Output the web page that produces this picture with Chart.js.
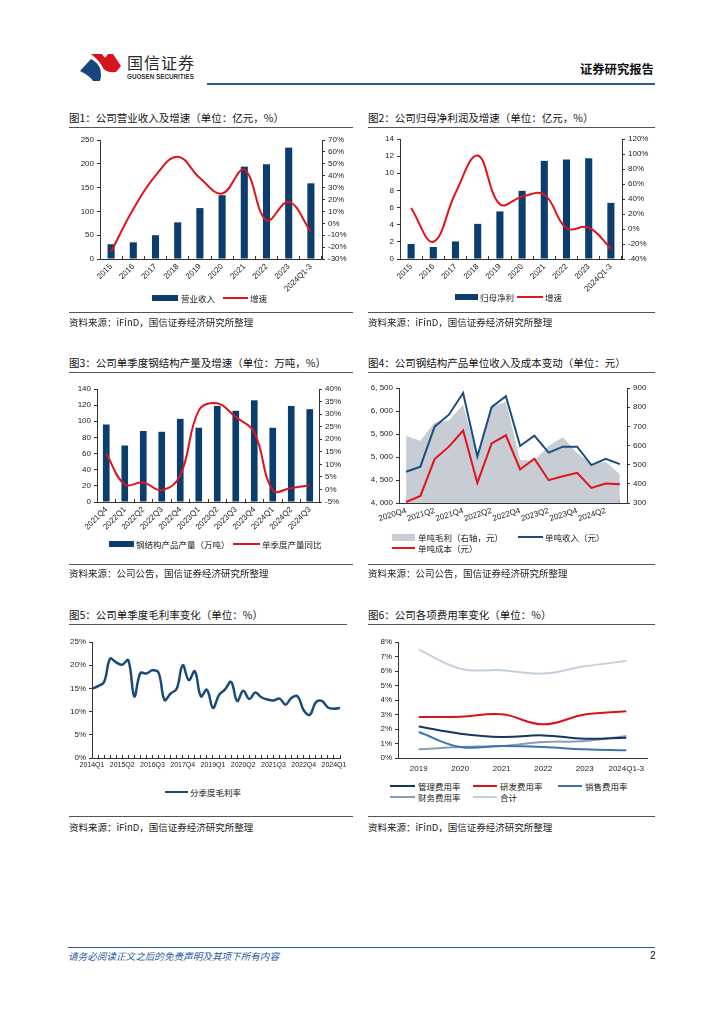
<!DOCTYPE html>
<html lang="zh-CN">
<head>
<meta charset="UTF-8">
<meta name="viewport" content="width=724">
<title>国信证券 - 公司经营数据图表</title>
<style>
  body { margin: 0; background: #fff; }
  .page { position: relative; width: 724px; height: 1024px; overflow: hidden; font-family: "Noto Sans CJK SC", sans-serif; color: #1a1a1a; }
  .abs { position: absolute; white-space: nowrap; }
  .title { font-size: 10.5px; line-height: 12px; color: #111; }
  .rule { position: absolute; height: 1px; background: #555; }
  .src { font-size: 9.5px; line-height: 11px; color: #222; }
  .lg { font-size: 8.5px; line-height: 10px; color: #222; }
  .sw { position: absolute; }
  canvas { position: absolute; }
</style>
<script src="https://cdn.jsdelivr.net/npm/chart.js"></script>
</head>
<body>
<div class="page">
  <!-- header -->
  <svg class="abs" style="left:76px;top:50px" width="50" height="34" viewBox="76 50 50 34">
    <path d="M80 71 L91 59 Q97 62 100 68 Q102 75 100 81 L93 81 Q90 76 80 71 Z" fill="#17467c"/>
    <path d="M91 54 L102 54 L105 58 L108 54 L113 54 L121 66 L116 72 Q106 73 103 68 Q100 61 91 54 Z" fill="#d7141d"/>
  </svg>
  <div class="abs" style="left:127px;top:53px;font-size:16px;line-height:18px;color:#2a2a2a;letter-spacing:1px">国信证券</div>
  <div class="abs" style="left:127px;top:73px;font-family:'Liberation Sans',sans-serif;font-size:6.3px;line-height:8px;font-weight:bold;color:#333">GUOSEN SECURITIES</div>
  <div class="abs" style="left:580px;top:62px;font-size:12.3px;line-height:14px;font-weight:bold;color:#111">证券研究报告</div>
  <div class="abs" style="left:207px;top:83px;width:448px;height:2px;background:#2b5c8e"></div>

  <!-- titles -->
  <div class="abs title" style="left:69px;top:112px">图1：公司营业收入及增速（单位：亿元，%）</div>
  <div class="abs title" style="left:368px;top:112px">图2：公司归母净利润及增速（单位：亿元，%）</div>
  <div class="abs title" style="left:69px;top:357px">图3：公司单季度钢结构产量及增速（单位：万吨，%）</div>
  <div class="abs title" style="left:368px;top:357px">图4：公司钢结构产品单位收入及成本变动（单位：元）</div>
  <div class="abs title" style="left:69px;top:609px">图5：公司单季度毛利率变化（单位：%）</div>
  <div class="abs title" style="left:368px;top:609px">图6：公司各项费用率变化（单位：%）</div>
  <div class="rule" style="left:69px;top:127px;width:284px"></div>
  <div class="rule" style="left:368px;top:127px;width:287px"></div>
  <div class="rule" style="left:69px;top:372px;width:284px"></div>
  <div class="rule" style="left:368px;top:372px;width:287px"></div>
  <div class="rule" style="left:69px;top:624px;width:278px"></div>
  <div class="rule" style="left:368px;top:624px;width:287px"></div>

  <!-- canvases -->
  <canvas id="c1" width="284" height="170" style="left:69px;top:130px"></canvas>
  <canvas id="c2" width="287" height="170" style="left:368px;top:130px"></canvas>
  <canvas id="c3" width="284" height="160" style="left:69px;top:376px"></canvas>
  <canvas id="c4" width="287" height="150" style="left:368px;top:376px"></canvas>
  <canvas id="c5" width="284" height="150" style="left:69px;top:628px"></canvas>
  <canvas id="c6" width="287" height="150" style="left:368px;top:628px"></canvas>

  <!-- legends -->
  <div class="sw" style="left:152px;top:295px;width:26px;height:6px;background:#0c3d6f"></div>
  <div class="abs lg" style="left:181px;top:293px">营业收入</div>
  <div class="sw" style="left:223px;top:297px;width:25px;height:2px;background:#e1141c"></div>
  <div class="abs lg" style="left:250px;top:293px">增速</div>

  <div class="sw" style="left:455px;top:294px;width:23px;height:6px;background:#0c3d6f"></div>
  <div class="abs lg" style="left:480px;top:292px">归母净利</div>
  <div class="sw" style="left:517px;top:296px;width:26px;height:2px;background:#e1141c"></div>
  <div class="abs lg" style="left:545px;top:292px">增速</div>

  <div class="sw" style="left:109px;top:541px;width:25px;height:6px;background:#0c3d6f"></div>
  <div class="abs lg" style="left:136px;top:539px">钢结构产品产量（万吨）</div>
  <div class="sw" style="left:233px;top:543px;width:27px;height:2px;background:#e1141c"></div>
  <div class="abs lg" style="left:262px;top:539px">单季度产量同比</div>

  <div class="sw" style="left:392px;top:534px;width:23px;height:7px;background:#c7ccd5"></div>
  <div class="abs lg" style="left:418px;top:532px">单吨毛利（右轴，元）</div>
  <div class="sw" style="left:518px;top:536px;width:25px;height:2px;background:#1b4d80"></div>
  <div class="abs lg" style="left:545px;top:532px">单吨收入（元）</div>
  <div class="sw" style="left:392px;top:547px;width:23px;height:2px;background:#e1141c"></div>
  <div class="abs lg" style="left:418px;top:543px">单吨成本（元）</div>

  <div class="sw" style="left:165px;top:791px;width:23px;height:2px;background:#1a4a7a"></div>
  <div class="abs lg" style="left:190px;top:787px">分季度毛利率</div>

  <div class="sw" style="left:390px;top:785px;width:25px;height:2px;background:#14375f"></div>
  <div class="abs lg" style="left:418px;top:781px">管理费用率</div>
  <div class="sw" style="left:473px;top:785px;width:24px;height:2px;background:#d9121c"></div>
  <div class="abs lg" style="left:500px;top:781px">研发费用率</div>
  <div class="sw" style="left:558px;top:785px;width:24px;height:2px;background:#3a74ad"></div>
  <div class="abs lg" style="left:585px;top:781px">销售费用率</div>
  <div class="sw" style="left:390px;top:796px;width:25px;height:2px;background:#8a9cb8"></div>
  <div class="abs lg" style="left:418px;top:792px">财务费用率</div>
  <div class="sw" style="left:473px;top:796px;width:24px;height:2px;background:#c5d0dd"></div>
  <div class="abs lg" style="left:500px;top:792px">合计</div>

  <!-- sources -->
  <div class="rule" style="left:69px;top:312px;width:284px"></div>
  <div class="rule" style="left:368px;top:312px;width:287px"></div>
  <div class="rule" style="left:69px;top:564px;width:284px"></div>
  <div class="rule" style="left:368px;top:564px;width:287px"></div>
  <div class="rule" style="left:69px;top:816px;width:284px"></div>
  <div class="rule" style="left:368px;top:816px;width:287px"></div>
  <div class="abs src" style="left:69px;top:317px">资料来源：iFinD，国信证券经济研究所整理</div>
  <div class="abs src" style="left:368px;top:317px">资料来源：iFinD，国信证券经济研究所整理</div>
  <div class="abs src" style="left:69px;top:568px">资料来源：公司公告，国信证券经济研究所整理</div>
  <div class="abs src" style="left:368px;top:568px">资料来源：公司公告，国信证券经济研究所整理</div>
  <div class="abs src" style="left:69px;top:822px">资料来源：iFinD，国信证券经济研究所整理</div>
  <div class="abs src" style="left:368px;top:822px">资料来源：iFinD，国信证券经济研究所整理</div>

  <!-- footer -->
  <div class="abs" style="left:68px;top:947px;width:587px;height:1px;background:#2b5c8e"></div>
  <div class="abs" style="left:68px;top:950px;font-size:9.6px;line-height:12px;font-style:italic;color:#2a5ea0">请务必阅读正文之后的免责声明及其项下所有内容</div>
  <div class="abs" style="left:650px;top:950px;font-family:'Liberation Sans',sans-serif;font-size:10px;line-height:12px;color:#111">2</div>
</div>

<script>
  // Fig 1 / Fig 2: annual revenue and net profit
  const yearLabels = ['2015', '2016', '2017', '2018', '2019', '2020', '2021', '2022', '2023', '2024Q1-3'];
  const revenue = [31, 35, 50, 77, 107, 134, 194, 199, 234, 159];
  const revenueGrowth = [-24, 12, 40, 56, 38, 25, 45, 2.5, 18, -7];
  const netProfit = [1.75, 1.4, 2.05, 4.1, 5.55, 7.95, 11.45, 11.6, 11.75, 6.55];
  const netProfitGrowth = [28, -17, 48, 98, 33, 43, 46, 1, 2, -26];

  // Fig 3: quarterly steel structure output
  const steelQuarters = ['2021Q4', '2022Q1', '2022Q2', '2022Q3', '2022Q4', '2023Q1', '2023Q2', '2023Q3', '2023Q4', '2024Q1', '2024Q2', '2024Q3'];
  const steelOutput = [96, 70, 88, 87, 103, 92, 119, 113, 126, 92, 119, 115];
  const steelGrowth = [14.2, 2, 2.8, -0.3, 5.6, 31.4, 34.3, 28.8, 22.8, -0.3, 0.6, 1.7];

  // Fig 4: per-ton revenue, cost and margin
  const unitQuarters = ['2020Q4', '2021Q1', '2021Q2', '2021Q3', '2021Q4', '2022Q1', '2022Q2', '2022Q3', '2022Q4', '2023Q1', '2023Q2', '2023Q3', '2023Q4', '2024Q1', '2024Q2', '2024Q3'];
  const unitMargin = [650, 625, 720, 730, 813, 541, 800, 830, 524, 520, 599, 643, 559, 506, 515, 450];
  const unitRevenue = [4680, 4790, 5660, 5920, 6390, 5010, 6085, 6320, 5240, 5465, 5095, 5225, 5225, 4825, 4960, 4845];
  const unitCost = [4022, 4153, 4955, 5225, 5574, 4437, 5297, 5472, 4729, 4962, 4496, 4583, 4656, 4328, 4423, 4408];

  // Fig 5: quarterly gross margin
  const marginQuarters = [
    '2014Q1', '2014Q2', '2014Q3', '2014Q4', '2015Q1', '2015Q2', '2015Q3', '2015Q4',
    '2016Q1', '2016Q2', '2016Q3', '2016Q4', '2017Q1', '2017Q2', '2017Q3', '2017Q4',
    '2018Q1', '2018Q2', '2018Q3', '2018Q4', '2019Q1', '2019Q2', '2019Q3', '2019Q4',
    '2020Q1', '2020Q2', '2020Q3', '2020Q4', '2021Q1', '2021Q2', '2021Q3', '2021Q4',
    '2022Q1', '2022Q2', '2022Q3', '2022Q4', '2023Q1', '2023Q2', '2023Q3', '2023Q4',
    '2024Q1', '2024Q2'];
  const grossMargin = [
    14.9, 15.5, 16.4, 21.4, 20.6, 20.1, 21.1, 13.3,
    18.3, 18.2, 18.9, 18.4, 12.5, 13.9, 14.9, 20.0,
    16.8, 18.7, 13.3, 14.7, 10.8, 13.6, 14.8, 16.4,
    12.3, 14.5, 12.7, 14.1, 13.1, 12.6, 12.4, 12.8,
    11.5, 13.0, 13.3, 10.3, 9.3, 12.0, 12.3, 10.9,
    10.6, 10.8];

  // Fig 6: expense ratios
  const expenseLabels = ['2019', '2020', '2021', '2022', '2023', '2024Q1-3'];
  const mgmtRate = [2.18, 1.68, 1.45, 1.56, 1.33, 1.4];
  const rdRate = [2.83, 2.85, 3.01, 2.32, 3.0, 3.22];
  const salesRate = [1.79, 0.76, 0.83, 0.76, 0.6, 0.53];
  const financeRate = [0.6, 0.76, 0.83, 1.1, 1.17, 1.52];
  const totalRate = [7.47, 6.16, 6.05, 5.82, 6.32, 6.69];

  const FONT = "'Liberation Sans', 'Noto Sans CJK SC', sans-serif";
  const NAVY = '#0c3d6f';
  const RED = '#e1141c';
  const AXIS = '#333';

  const pct = v => v + '%';

  function yAxis(pos, min, max, step, w, fmt) {
    const ticks = { stepSize: step, autoSkip: false, color: '#222', font: { family: FONT, size: 8 }, padding: 3 };
    if (fmt) ticks.callback = fmt;
    return {
      type: 'linear', position: pos, min: min, max: max,
      afterFit: s => { s.width = w; },
      ticks: ticks,
      grid: { drawOnChartArea: false, drawTicks: true, tickLength: 3, color: AXIS },
      border: { color: AXIS, width: 1 }
    };
  }

  function xAxis(h, rot, tickLen, labels, every, size) {
    return {
      type: 'category',
      afterFit: s => { s.height = h; },
      ticks: {
        color: '#222', font: { family: FONT, size: size || 8 },
        minRotation: rot, maxRotation: rot, autoSkip: false, padding: 6,
        callback: (v, i) => (i % (every || 1) === 0 ? labels[i] : '')
      },
      grid: { drawOnChartArea: false, drawTicks: tickLen !== 0, tickLength: tickLen, color: AXIS },
      border: { color: AXIS, width: 1 }
    };
  }

  const baseOpts = (pad) => ({
    responsive: false,
    animation: false,
    layout: { padding: pad },
    plugins: { legend: { display: false }, tooltip: { enabled: false } }
  });

  // Fig 1
  new Chart(document.getElementById('c1'), {
    type: 'bar',
    data: {
      labels: yearLabels,
      datasets: [
        { type: 'line', label: '增速', data: revenueGrowth, yAxisID: 'y1', borderColor: RED, borderWidth: 2, pointRadius: 0, tension: 0.4, order: 0 },
        { label: '营业收入', data: revenue, yAxisID: 'y', backgroundColor: NAVY, barPercentage: 0.32, categoryPercentage: 1, order: 1 }
      ]
    },
    options: Object.assign(baseOpts({ top: 10, left: 0, right: 0, bottom: 0 }), {
      scales: {
        x: xAxis(41, 45, -3, yearLabels),
        y: yAxis('left', 0, 250, 50, 31),
        y1: yAxis('right', -30, 70, 10, 31, pct)
      }
    })
  });

  // Fig 2
  new Chart(document.getElementById('c2'), {
    type: 'bar',
    data: {
      labels: yearLabels,
      datasets: [
        { type: 'line', label: '增速', data: netProfitGrowth, yAxisID: 'y1', borderColor: RED, borderWidth: 2, pointRadius: 0, tension: 0.4, order: 0 },
        { label: '归母净利', data: netProfit, yAxisID: 'y', backgroundColor: NAVY, barPercentage: 0.32, categoryPercentage: 1, order: 1 }
      ]
    },
    options: Object.assign(baseOpts({ top: 9, left: 0, right: 0, bottom: 0 }), {
      scales: {
        x: xAxis(41, 45, -3, yearLabels),
        y: yAxis('left', 0, 14, 2, 32),
        y1: yAxis('right', -40, 120, 20, 33, pct)
      }
    })
  });

  // Fig 3
  new Chart(document.getElementById('c3'), {
    type: 'bar',
    data: {
      labels: steelQuarters,
      datasets: [
        { type: 'line', label: '单季度产量同比', data: steelGrowth, yAxisID: 'y1', borderColor: RED, borderWidth: 2, pointRadius: 0, tension: 0.4, order: 0 },
        { label: '钢结构产品产量（万吨）', data: steelOutput, yAxisID: 'y', backgroundColor: NAVY, barPercentage: 0.36, categoryPercentage: 1, order: 1 }
      ]
    },
    options: Object.assign(baseOpts({ top: 13, left: 0, right: 0, bottom: 0 }), {
      scales: {
        x: xAxis(34, 45, -3, steelQuarters),
        y: yAxis('left', 0, 140, 20, 28),
        y1: yAxis('right', -5, 40, 5, 34, pct)
      }
    })
  });

  // Fig 4
  new Chart(document.getElementById('c4'), {
    type: 'line',
    data: {
      labels: unitQuarters,
      datasets: [
        { label: '单吨收入（元）', data: unitRevenue, yAxisID: 'y', borderColor: '#1b4d80', borderWidth: 2, pointRadius: 0, tension: 0, order: 1 },
        { label: '单吨成本（元）', data: unitCost, yAxisID: 'y', borderColor: RED, borderWidth: 2, pointRadius: 0, tension: 0, order: 1 },
        { label: '单吨毛利（右轴，元）', data: unitMargin, yAxisID: 'y1', borderWidth: 0, backgroundColor: '#c7ccd5', fill: 'start', pointRadius: 0, tension: 0, order: 3 }
      ]
    },
    options: Object.assign(baseOpts({ top: 12, left: 0, right: 0, bottom: 0 }), {
      scales: {
        x: Object.assign(xAxis(23, 17, -3, unitQuarters, 2), { offset: true }),
        y: yAxis('left', 4000, 6500, 500, 31, v => v.toLocaleString('en-US').replace(',', ', ')),
        y1: yAxis('right', 300, 900, 100, 28)
      }
    })
  });

  // Fig 5
  new Chart(document.getElementById('c5'), {
    type: 'line',
    data: {
      labels: marginQuarters,
      datasets: [
        { label: '分季度毛利率', data: grossMargin, borderColor: '#1a4a7a', borderWidth: 2.5, pointRadius: 0, tension: 0.4 }
      ]
    },
    options: Object.assign(baseOpts({ top: 14, left: 0, right: 13, bottom: 0 }), {
      scales: {
        x: Object.assign(xAxis(20, 0, -3, marginQuarters, 5, 7), { offset: false }),
        y: yAxis('left', 0, 25, 5, 23, pct)
      }
    })
  });

  // Fig 6
  const rateLine = (label, data, color) => ({ label: label, data: data, borderColor: color, borderWidth: 2, pointRadius: 0, tension: 0.4 });
  new Chart(document.getElementById('c6'), {
    type: 'line',
    data: {
      labels: expenseLabels,
      datasets: [
        rateLine('管理费用率', mgmtRate, '#14375f'),
        rateLine('研发费用率', rdRate, '#d9121c'),
        rateLine('销售费用率', salesRate, '#3a74ad'),
        rateLine('财务费用率', financeRate, '#8a9cb8'),
        rateLine('合计', totalRate, '#c5d0dd')
      ]
    },
    options: Object.assign(baseOpts({ top: 14, left: 0, right: 8, bottom: 0 }), {
      scales: {
        x: Object.assign(xAxis(20, 0, 0, expenseLabels), { offset: true }),
        y: yAxis('left', 0, 8, 1, 30, pct)
      }
    })
  });
</script>
</body>
</html>
